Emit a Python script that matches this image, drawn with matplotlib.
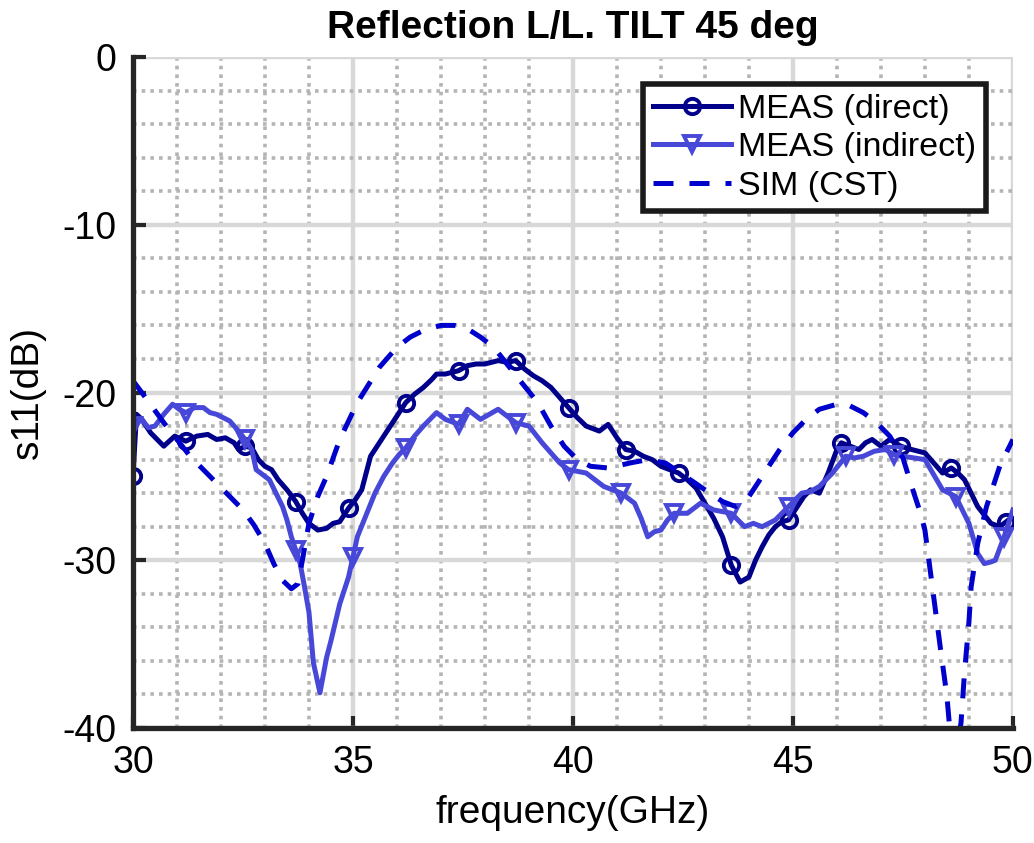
import numpy as np
import matplotlib
matplotlib.use("Agg")
import matplotlib.pyplot as plt
from matplotlib.ticker import MultipleLocator

plt.rcParams['font.family'] = ['Liberation Sans', 'DejaVu Sans']
plt.rcParams['axes.unicode_minus'] = False

# MEAS (direct)
f_direct = [30.0, 30.08, 30.2, 30.4, 30.7, 30.95, 31.2, 31.45, 31.7, 31.9, 32.1, 32.3, 32.4, 32.55,
            32.7, 32.85, 33.0, 33.15, 33.3, 33.5, 33.7, 33.85, 34.0, 34.2, 34.4, 34.55, 34.7, 34.9,
            35.05, 35.2, 35.3, 35.4, 35.6, 35.8, 36.0, 36.2, 36.4, 36.6, 36.8, 36.9, 37.1, 37.4,
            37.6, 37.8, 38.0, 38.3, 38.5, 38.7, 38.9, 39.1, 39.3, 39.5, 39.7, 39.9, 40.1, 40.3,
            40.5, 40.6, 40.8, 41.0, 41.2, 41.4, 41.6, 41.8, 42.0, 42.2, 42.4, 42.6, 42.8, 43.0,
            43.2, 43.4, 43.6, 43.8, 44.0, 44.15, 44.3, 44.45, 44.6, 44.75, 44.9, 45.1, 45.25,
            45.4, 45.6, 45.8, 46.0, 46.1, 46.3, 46.5, 46.65, 46.8, 47.0, 47.2, 47.45, 47.7, 48.0,
            48.2, 48.4, 48.6, 48.75, 48.9, 49.05, 49.2, 49.35, 49.5, 49.7, 49.85, 50.0]
s_direct = [-25.0, -21.3, -21.6, -22.4, -23.2, -22.6, -22.9, -22.6, -22.5, -22.8, -22.7, -23.0,
            -23.4, -23.2, -23.3, -24.0, -24.4, -24.6, -25.2, -25.8, -26.5, -27.2, -27.8, -28.2,
            -28.1, -27.8, -27.7, -26.9, -26.4, -25.8, -24.8, -23.8, -23.0, -22.2, -21.4, -20.6,
            -20.1, -19.7, -19.2, -18.9, -18.9, -18.7, -18.4, -18.3, -18.3, -18.1, -18.2, -18.1,
            -18.6, -19.0, -19.3, -19.7, -20.3, -20.9, -21.5, -22.0, -22.2, -22.3, -21.9, -22.7,
            -23.4, -23.5, -23.8, -24.0, -24.4, -24.6, -24.8, -25.2, -25.7, -26.6, -27.5, -28.6,
            -30.3, -31.3, -31.0, -30.0, -29.2, -28.5, -28.0, -27.7, -27.6, -26.8, -26.2, -25.8,
            -26.0, -24.8, -23.4, -23.0, -23.2, -23.4, -23.0, -22.8, -23.2, -22.8, -23.2, -23.4,
            -23.6, -24.2, -24.8, -24.5, -24.8, -25.2, -26.0, -26.8, -27.3, -27.8, -28.0, -27.7,
            -27.4]

# MEAS (indirect)
f_indirect = [30.0, 30.2, 30.35, 30.5, 30.7, 30.9, 31.05, 31.2, 31.4, 31.6, 31.75, 31.9, 32.05,
              32.2, 32.4, 32.55, 32.7, 32.8, 32.95, 33.1, 33.25, 33.4, 33.5, 33.6, 33.7, 33.8,
              33.9, 34.0, 34.1, 34.25, 34.4, 34.5, 34.6, 34.7, 34.8, 34.9, 35.0, 35.1, 35.3,
              35.5, 35.7, 35.9, 36.05, 36.2, 36.4, 36.6, 36.9, 37.1, 37.4, 37.6, 37.9, 38.1,
              38.3, 38.5, 38.7, 39.0, 39.3, 39.5, 39.7, 39.9, 40.1, 40.3, 40.5, 40.7, 40.9,
              41.1, 41.4, 41.55, 41.7, 41.85, 42.0, 42.15, 42.3, 42.6, 42.9, 43.2, 43.4, 43.6,
              43.9, 44.1, 44.3, 44.6, 44.9, 45.2, 45.4, 45.6, 45.9, 46.2, 46.4, 46.6, 46.85,
              47.1, 47.3, 47.5, 47.75, 48.0, 48.2, 48.4, 48.7, 48.85, 49.0, 49.2, 49.35, 49.5,
              49.6, 49.8, 49.9, 50.0]
s_indirect = [-22.0, -21.6, -22.1, -22.0, -21.3, -20.7, -21.0, -21.2, -20.9, -20.9, -21.2, -21.3,
              -21.5, -21.7, -22.3, -22.8, -23.4, -24.6, -24.9, -25.2, -26.0, -26.8, -27.6, -28.6,
              -29.4, -30.2, -31.6, -33.1, -36.1, -37.9, -35.8, -34.8, -33.7, -32.6, -31.8, -31.0,
              -29.8, -28.6, -27.3, -26.0, -25.0, -24.2, -23.7, -23.3, -22.6, -22.0, -21.2, -21.6,
              -21.9, -21.0, -21.6, -21.3, -21.0, -21.4, -21.8, -22.0, -23.0, -23.6, -24.2, -24.6,
              -24.7, -24.8, -25.2, -25.6, -25.8, -26.0, -26.6, -27.5, -28.6, -28.3, -28.2, -27.6,
              -27.2, -27.2, -26.6, -27.0, -27.1, -27.2, -28.0, -27.8, -28.0, -27.6, -26.8, -26.0,
              -25.9, -25.6, -24.8, -23.8, -23.9, -23.8, -23.5, -23.4, -23.7, -23.8, -23.9, -24.0,
              -24.9, -25.8, -26.2, -27.0, -27.8, -29.6, -30.2, -30.1, -30.0, -28.6, -27.8, -27.0]

# SIM (CST)
f_sim = [30.0, 30.2, 30.45, 30.7, 31.0, 31.3, 31.6, 31.9, 32.2, 32.5, 32.75, 33.0, 33.2, 33.4,
         33.6, 33.75, 33.85, 34.0, 34.2, 34.4, 34.7, 35.1, 35.6, 36.0, 36.3, 36.6, 37.0, 37.3,
         37.6, 37.9, 38.2, 38.5, 38.8, 39.2, 39.5, 39.8, 40.1, 40.4, 40.8, 41.3, 41.7, 42.1,
         42.5, 43.0, 43.4, 43.7, 44.0, 44.4, 44.7, 45.0, 45.3, 45.6, 46.0, 46.3, 46.6, 46.9,
         47.2, 47.5, 47.7, 47.9, 48.0, 48.2, 48.35, 48.5, 48.58, 48.7, 48.82, 48.9, 49.0,
         49.05, 49.2, 49.4, 49.7, 50.0]
s_sim = [-19.3, -20.0, -20.9, -21.8, -22.8, -23.8, -24.6, -25.4, -26.2, -27.0, -27.9, -29.0,
         -30.2, -31.2, -31.7, -31.4, -30.0, -27.8, -26.2, -25.0, -22.8, -20.6, -18.5, -17.3,
         -16.7, -16.3, -16.0, -16.0, -16.2, -16.7, -17.3, -18.3, -19.3, -20.6, -22.0, -23.2,
         -24.0, -24.4, -24.5, -24.2, -24.0, -24.2, -24.9, -25.8, -26.5, -26.8, -26.2, -24.6,
         -23.4, -22.4, -21.6, -21.0, -20.7, -20.8, -21.2, -21.8, -22.6, -23.9, -25.6, -27.2,
         -28.2, -32.2, -35.2, -38.1, -40.5, -41.5, -39.7, -36.7, -33.7, -31.6, -29.0, -26.8,
         -24.4, -22.8]


def marker_idx(f, step=1.24):
    f = np.asarray(f)
    return sorted({int(np.argmin(np.abs(f - m))) for m in np.arange(30, 50.01, step)})


fig = plt.figure(figsize=(10.34, 8.43), dpi=100)
ax = fig.add_axes([0.1286, 0.1364, 0.851, 0.796])

c_direct = '#00008B'
c_indirect = '#4848D8'
c_sim = '#0000CC'

ax.plot(f_direct, s_direct, color=c_direct, lw=3.6, marker='o', ms=11, mfc='none', mew=2.8,
        markevery=marker_idx(f_direct), label='MEAS (direct)')
ax.plot(f_indirect, s_indirect, color=c_indirect, lw=3.6, marker='v', ms=11, mfc='none', mew=2.8,
        markevery=marker_idx(f_indirect), label='MEAS (indirect)')
ax.plot(f_sim, s_sim, color=c_sim, lw=3.6, ls=(0, (4, 3.2)), label='SIM (CST)')

ax.set_xlim(30, 50)
ax.set_ylim(-40, 0)
ax.xaxis.set_major_locator(MultipleLocator(5))
ax.yaxis.set_major_locator(MultipleLocator(10))
ax.xaxis.set_minor_locator(MultipleLocator(1))
ax.yaxis.set_minor_locator(MultipleLocator(2))

ax.grid(which='major', color='#d8d8d8', lw=3.2, ls='-')
ax.grid(which='minor', color='#b4b4b4', lw=2.6, ls=(0, (1, 1.4)))
ax.set_axisbelow(True)

for side in ('top', 'right'):
    ax.spines[side].set_visible(False)
for side in ('left', 'bottom'):
    ax.spines[side].set_color('#262626')
    ax.spines[side].set_linewidth(3.8)

ax.tick_params(which='major', direction='in', length=9, width=3, color='#262626',
               labelsize=27, pad=12, top=False, right=False)
ax.tick_params(which='minor', length=0)

ax.set_title('Reflection L/L. TILT 45 deg', fontsize=28, fontweight='bold', pad=14)
ax.set_xlabel('frequency(GHz)', fontsize=28, labelpad=10)
ax.set_ylabel('s11(dB)', fontsize=28, labelpad=12)

leg = ax.legend(loc='upper right', fontsize=24.5, handlelength=2.3, borderaxespad=0.8,
                labelspacing=0.22, handletextpad=0.2, borderpad=0.28, fancybox=False,
                framealpha=1)
leg.get_frame().set_edgecolor('#1a1a1a')
leg.get_frame().set_linewidth(4)

fig.savefig('out.png', dpi=100)
